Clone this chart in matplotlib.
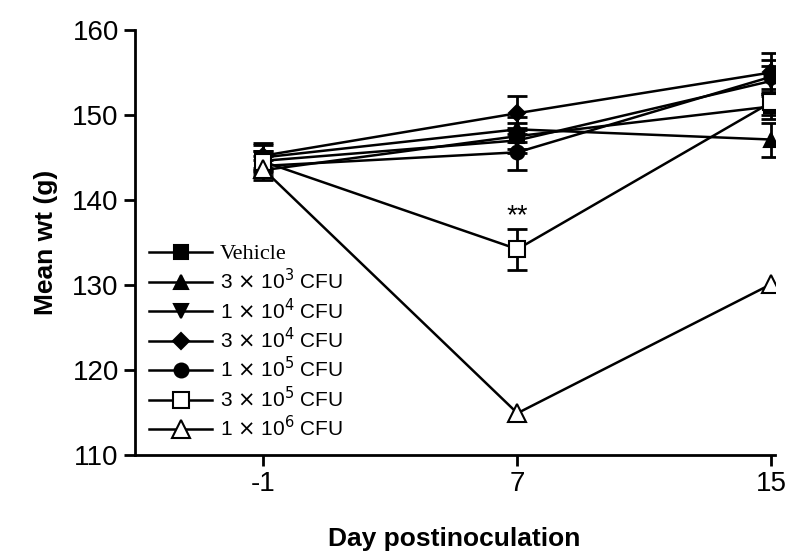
import matplotlib
matplotlib.use('Agg')
import matplotlib.pyplot as plt

plt.rcParams['font.family'] = ['Liberation Sans', 'DejaVu Sans']
plt.rcParams['axes.unicode_minus'] = False

# datos
days = [-1, 7, 15]
labels = ['Vehicle',
          r'3 $\times$ 10$^3$ CFU',
          r'1 $\times$ 10$^4$ CFU',
          r'3 $\times$ 10$^4$ CFU',
          r'1 $\times$ 10$^5$ CFU',
          r'3 $\times$ 10$^5$ CFU',
          r'1 $\times$ 10$^6$ CFU']
vehicle = [143.5, 147.5, 151.0]
cfu_3e3 = [145.0, 148.3, 147.1]
cfu_1e4 = [144.6, 147.0, 154.0]
cfu_3e4 = [145.2, 150.2, 155.0]
cfu_1e5 = [144.0, 145.6, 154.5]
cfu_3e5 = [144.5, 134.2, 151.5]
cfu_1e6 = [143.6, 114.9, 130.1]
err_vehicle = [1.2, 1.5, 1.5]
err_3e3 = [1.5, 1.5, 2.0]
err_1e4 = [1.2, 1.5, 1.8]
err_3e4 = [1.5, 2.0, 2.3]
err_1e5 = [1.2, 2.1, 2.0]
err_3e5 = [1.3, 2.4, 1.5]
err_1e6 = [0, 0, 0]

series = [vehicle, cfu_3e3, cfu_1e4, cfu_3e4, cfu_1e5, cfu_3e5, cfu_1e6]
errors = [err_vehicle, err_3e3, err_1e4, err_3e4, err_1e5, err_3e5, err_1e6]
markers = ['s', '^', 'v', 'D', 'o', 's', '^']
fills = ['black', 'black', 'black', 'black', 'black', 'white', 'white']
sizes = [10, 10, 10, 8, 10, 12, 13]

fig = plt.figure(figsize=(7.88, 5.54), dpi=100)
ax = fig.add_axes([0.171, 0.179, 0.812, 0.767])

for y, e, m, f, s, lab in zip(series, errors, markers, fills, sizes, labels):
    if max(e) > 0:
        ax.errorbar(days, y, yerr=e, fmt='none', ecolor='black',
                    capsize=7, capthick=2, elinewidth=2)
    ax.plot(days, y, color='black', lw=1.8, marker=m, markersize=s,
            markerfacecolor=f, markeredgecolor='black', markeredgewidth=1.5,
            label=lab)

ax.text(7, 136.6, '**', ha='center', va='bottom', fontsize=20)

ax.set_xlim(-5.05, 15.1)
ax.set_ylim(110, 160)
ax.set_xticks(days)
ax.set_yticks([110, 120, 130, 140, 150, 160])
ax.spines['top'].set_visible(False)
ax.spines['right'].set_visible(False)
ax.spines['left'].set_linewidth(2)
ax.spines['bottom'].set_linewidth(2)
ax.tick_params(width=2, length=8, labelsize=20)
ax.set_xlabel('Day postinoculation', fontsize=19, fontweight='bold', labelpad=22)
ax.set_ylabel('Mean wt (g)', fontsize=19, fontweight='bold', labelpad=10)

leg = ax.legend(loc='lower left', bbox_to_anchor=(0.0, 0.0), frameon=False,
                fontsize=15, handlelength=3.0, labelspacing=0.2,
                handletextpad=0.4, borderaxespad=0.3)
leg.get_texts()[0].set_family('Liberation Serif')
leg.get_texts()[0].set_fontsize(16)

fig.savefig('out.png', dpi=100)
